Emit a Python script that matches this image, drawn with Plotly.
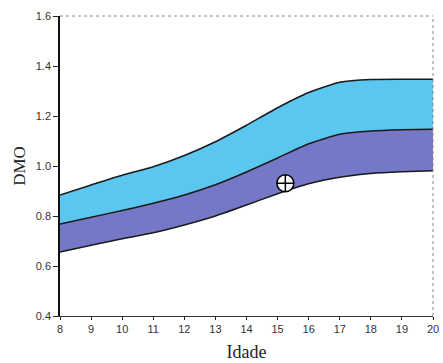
import plotly.graph_objects as go

ages = [8, 9, 10, 11, 12, 13, 14, 15, 16, 17, 18, 19, 20]
upper = [0.884, 0.924, 0.963, 0.997, 1.042, 1.097, 1.163, 1.233, 1.294, 1.335, 1.346, 1.347, 1.347]
middle = [0.768, 0.795, 0.822, 0.851, 0.884, 0.925, 0.976, 1.032, 1.089, 1.127, 1.140, 1.145, 1.147]
lower = [0.656, 0.683, 0.709, 0.733, 0.764, 0.800, 0.844, 0.889, 0.929, 0.955, 0.970, 0.977, 0.981]
point_x = [15.25]
point_y = [0.931]

LIGHT = "#5BC6F0"
PURPLE = "#7478C7"

fig = go.Figure()
fig.add_trace(go.Scatter(x=ages, y=lower, mode="lines",
                         line=dict(color="#1a1a1a", width=1.5, shape="spline", smoothing=0.5),
                         hoverinfo="skip", showlegend=False))
fig.add_trace(go.Scatter(x=ages, y=middle, mode="lines", fill="tonexty", fillcolor=PURPLE,
                         line=dict(color="#1a1a1a", width=1.5, shape="spline", smoothing=0.5),
                         hoverinfo="skip", showlegend=False))
fig.add_trace(go.Scatter(x=ages, y=upper, mode="lines", fill="tonexty", fillcolor=LIGHT,
                         line=dict(color="#1a1a1a", width=1.5, shape="spline", smoothing=0.5),
                         hoverinfo="skip", showlegend=False))
fig.add_trace(go.Scatter(x=point_x, y=point_y, mode="markers",
                         marker=dict(symbol="circle-cross", size=17, color="white",
                                     line=dict(color="black", width=1.5)),
                         showlegend=False))

# light frame on top and right
fig.add_shape(type="line", xref="paper", yref="paper", x0=0, x1=1, y0=1, y1=1,
              line=dict(color="#888888", width=1, dash="dot"))
fig.add_shape(type="line", xref="paper", yref="paper", x0=1, x1=1, y0=0, y1=1,
              line=dict(color="#888888", width=1, dash="dot"))

tickfont = dict(family="Liberation Sans, Arial, sans-serif", size=11, color="#333333")
fig.update_layout(
    width=443, height=363,
    margin=dict(l=60, r=10, t=16, b=47),
    paper_bgcolor="white", plot_bgcolor="white",
    xaxis=dict(range=[8, 20], tickvals=ages, ticks="outside", ticklen=3, tickcolor="#222",
               showline=True, linecolor="#333333", linewidth=1.2, showgrid=False, zeroline=False,
               tickfont=tickfont, automargin=False,
               title=dict(text="Idade", font=dict(family="Liberation Serif, Times New Roman, serif", size=18, color="#222"),
                          standoff=11)),
    yaxis=dict(range=[0.4, 1.6], tickvals=[0.4, 0.6, 0.8, 1.0, 1.2, 1.4, 1.6], tickformat=".1f",
               ticks="outside", ticklen=5, tickcolor="#222",
               showline=True, linecolor="#111111", linewidth=1.5, showgrid=False, zeroline=False,
               tickfont=tickfont, automargin=False,
               title=dict(text="DMO", font=dict(family="Liberation Serif, Times New Roman, serif", size=17, color="#222"),
                          standoff=6)),
)

fig.write_html("out.html")
